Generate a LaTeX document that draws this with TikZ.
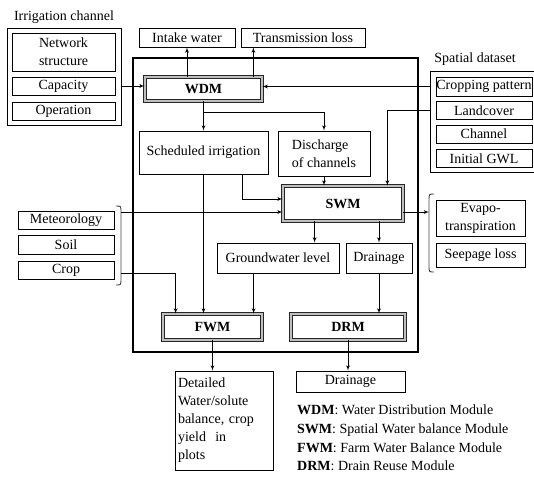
\documentclass[tikz,border=0pt]{standalone}
\usepackage{fontspec}
\setmainfont{Liberation Serif}
\usetikzlibrary{positioning, arrows}

\newcommand{\diagfont}{\fontsize{14}{18}\selectfont}

\tikzset{
  box/.style={draw, line width=0.8pt, inner sep=0pt, align=center},
  wh/.style 2 args={minimum width=#1pt, minimum height=#2pt},
  module/.style={draw=black!85, line width=0.8pt, double=gray!50, double distance=1.8pt, inner sep=0pt, font=\diagfont\bfseries},
  group/.style={draw, line width=0.8pt, inner sep=0pt},
  link/.style={line width=0.8pt, -latex'},
  bracket/.style={line width=0.9pt, gray!50!black},
}

\begin{document}
\begin{tikzpicture}[x=1pt, y=-1pt, font=\diagfont]
\useasboundingbox (0,0) rectangle (534,477);

% irrigation channel
\node (irrlabel) at (64,17) {Irrigation channel};
\node[group, wh={114}{97}] (irr) at (64,76.5) {};
\node[box, wh={103}{38}] (network) at (63.5,52) {Network\\structure};
\node[box, wh={103}{18}] (capacity) at (63.5,86) {Capacity};
\node[box, wh={103}{18}] (operation) at (63.5,111) {Operation};

% outputs of WDM
\node[box, wh={96}{19}] (intake) at (187,37.5) {Intake water};
\node[box, wh={124}{19}] (trans) at (303,37.5) {Transmission loss};

% model frame
\node[draw, line width=2pt, wh={285}{294}] (frame) at (275.5,205) {};

% modules
\node[module, wh={117}{24}] (wdm) at (203.5,89) {WDM};
\node[module, wh={120}{35}] (swm) at (343,203.5) {SWM};
\node[module, wh={99}{26}] (fwm) at (212.5,327) {FWM};
\node[module, wh={114}{26}] (drm) at (348,327) {DRM};

% inner boxes
\node[box, wh={129}{43}] (sched) at (203.5,152.5) {Scheduled irrigation};
\node[box, wh={92}{45}, align=left] (disc) at (324,153.5) {Discharge\\of channels};
\node[box, wh={122}{30}] (gw) at (278,258) {Groundwater level};
\node[box, wh={66}{30}] (drain) at (379,258) {Drainage};

% spatial dataset
\node (spatlabel) at (475,59) {Spatial dataset};
\node[group, wh={108}{101}] (spatial) at (484,121.5) {};
\node[box, wh={96}{19}] (cropping) at (484,86.5) {Cropping pattern};
\node[box, wh={96}{18}] (landcover) at (484,110.5) {Landcover};
\node[box, wh={96}{18}] (channel) at (484,134) {Channel};
\node[box, wh={96}{18}] (initgwl) at (484,158.5) {Initial GWL};

% meteorological inputs
\node[box, wh={96}{18}] (meteo) at (66,220) {Meteorology};
\node[box, wh={96}{19}] (soil) at (66,244.5) {Soil};
\node[box, wh={96}{18}] (crop) at (66,270) {Crop};
\draw[bracket] (116,206) .. controls (121,206) .. (121,212) -- (121,279) .. controls (121,285) .. (116,285);
\coordinate (meteoin) at (121,212);
\coordinate (cropin) at (121,273);

% outputs of SWM
\node[box, wh={89}{36}] (evapo) at (480.5,218) {Evapo-\\transpiration};
\node[box, wh={89}{24}] (seepage) at (480.5,255) {Seepage loss};
\draw[bracket] (434,194) .. controls (429,194) .. (429,200) -- (429,266) .. controls (429,272) .. (434,272);
\coordinate (evapoin) at (429,212);

% bottom outputs
\node[box, wh={98}{99}, text width=92pt, align=left] (detail) at (224,420.5) {Detailed\\Water/solute\\balance, crop\\yield~ in\\plots};
\node[box, wh={109}{21}] (drainout) at (350.5,381.5) {Drainage};

% legend
\foreach \abbr/\full [count=\i] in {WDM/Water Distribution Module, SWM/Spatial Water balance Module, FWM/Farm Water Balance Module, DRM/Drain Reuse Module}
  \node[anchor=base west, inner sep=0pt] (legend\i) at (297,{396+18.7*\i}) {\textbf{\abbr}: \full};

% connectors
\draw[link] (irr.east |- capacity) -- (wdm.west |- capacity);
\draw[link] (wdm.north -| intake) -- (intake.south);
\draw[link] ([xshift=-9pt]wdm.north east) -- ([xshift=-9pt]wdm.north east |- trans.south);
\draw[link] (spatial.west |- cropping) -- (wdm.east |- cropping);
\draw[link] (wdm.south -| sched) -- (sched.north);
\draw[link] (wdm.south -| sched) |- ([yshift=18pt]disc.north) -- (disc.north);
\draw[link] (spatial.west |- landcover) -| ([xshift=-16pt]swm.north east);
\draw[link] (disc.south) -- (disc.south |- swm.north);
\draw[link] ([xshift=-26pt]sched.south east) |- ([yshift=4.5pt]swm.west);
\draw[link] (meteoin) -- (meteoin -| swm.west);
\draw[link] (meteoin -| swm.east) -- (evapoin);
\draw[link] ([xshift=32pt]swm.south west) -- ([xshift=32pt]swm.south west |- gw.north);
\draw[link] (swm.south -| drain) -- (drain.north);
\draw[link] (cropin) -| ([xshift=13pt]fwm.north west);
\draw[link] (sched.south) -- (sched.south |- fwm.north);
\draw[link] ([xshift=37pt]gw.south west) -- ([xshift=37pt]gw.south west |- fwm.north);
\draw[link] (drain.south) -- (drain.south |- drm.north);
\draw[link] (fwm.south) -- (fwm.south |- detail.north);
\draw[link] (drm.south) -- (drm.south |- drainout.north);
\end{tikzpicture}
\end{document}
